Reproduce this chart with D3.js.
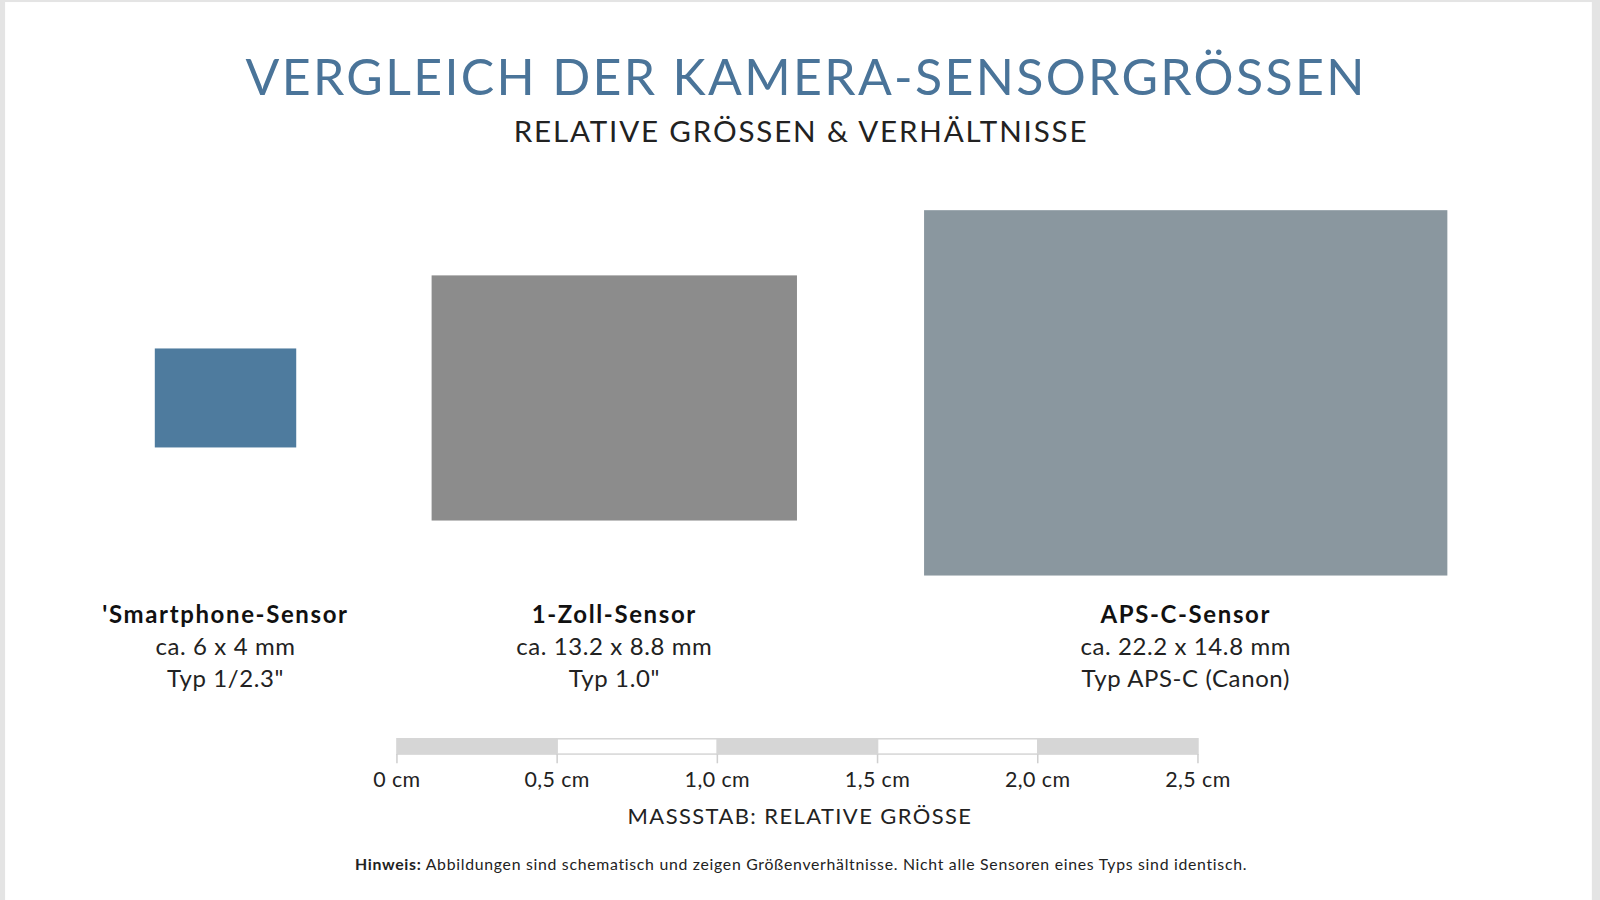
<!DOCTYPE html>
<html><head><meta charset="utf-8">
<script src="https://cdn.jsdelivr.net/npm/d3@7"></script>
<style>body{margin:0;background:#fff}svg{display:block}text{font-family:Lato,"Open Sans",sans-serif}</style>
</head><body><svg id="c" width="1600" height="900" viewBox="0 0 1568 882"></svg>
<script>
const sensors = ["'Smartphone-Sensor","1-Zoll-Sensor","APS-C-Sensor"];
const sizeLabels = ["ca. 6 x 4 mm","ca. 13.2 x 8.8 mm","ca. 22.2 x 14.8 mm"];
const typeLabels = ["Typ 1/2.3\"","Typ 1.0\"","Typ APS-C (Canon)"];
// schematic drawn sizes (relative units, as shown in picture)
const drawW = [6.0, 15.5, 22.2];
const drawH = [4.2, 10.4, 15.5];
const centersX = [221, 602, 1162];
const colors = ["#4e7b9e","#8c8c8c","#8a979f"];
const scaleTicks = [0,0.5,1.0,1.5,2.0,2.5];
const tickLabels = ["0 cm","0,5 cm","1,0 cm","1,5 cm","2,0 cm","2,5 cm"];

const svg = d3.select("#c");
svg.append("rect").attr("width",1568).attr("height",882).attr("fill","#e4e4e4");
svg.append("rect").attr("x",5).attr("y",2).attr("width",1555).attr("height",880).attr("fill","#fff");

svg.append("text").attr("x",790).attr("y",93).attr("text-anchor","middle").attr("font-size",49)
  .attr("letter-spacing",2.3).attr("fill","#4a7499").text("VERGLEICH DER KAMERA-SENSORGRÖSSEN");
svg.append("text").attr("x",785).attr("y",139).attr("text-anchor","middle").attr("font-size",29)
  .attr("letter-spacing",1.8).attr("fill","#222").text("RELATIVE GRÖSSEN & VERHÄLTNISSE");

const u = d3.scaleLinear().domain([0,1]).range([0,23.1]);
const cy = [390,390,385];
sensors.forEach((s,i)=>{
  svg.append("rect").attr("x",centersX[i]-u(drawW[i])/2).attr("y",cy[i]-u(drawH[i])/2)
    .attr("width",u(drawW[i])).attr("height",u(drawH[i])).attr("fill",colors[i]);
  svg.append("text").attr("x",centersX[i]).attr("y",611).attr("text-anchor","middle").attr("font-size",23.5)
    .attr("letter-spacing",1.6).attr("font-weight","bold").attr("fill","#111").text(s);
  svg.append("text").attr("x",centersX[i]).attr("y",642).attr("text-anchor","middle").attr("font-size",23.5)
    .attr("letter-spacing",0.6).attr("fill","#222").text(sizeLabels[i]);
  svg.append("text").attr("x",centersX[i]).attr("y",673).attr("text-anchor","middle").attr("font-size",23.5)
    .attr("letter-spacing",0.6).attr("fill","#222").text(typeLabels[i]);
});

const x = d3.scaleLinear().domain([0,2.5]).range([389,1174]);
const segs = d3.range(5);
svg.selectAll(".seg").data(segs).enter().append("rect")
  .attr("x",i=>x(i*0.5)).attr("y",724).attr("width",i=>x((i+1)*0.5)-x(i*0.5)).attr("height",15)
  .attr("fill",i=>i%2?"#fff":"#d6d6d6").attr("stroke","#d6d6d6").attr("stroke-width",1.5);
svg.selectAll(".tk").data(scaleTicks).enter().append("line")
  .attr("x1",d=>x(d)).attr("x2",d=>x(d)).attr("y1",739).attr("y2",748).attr("stroke","#cfcfcf").attr("stroke-width",1.5);
svg.selectAll(".tl").data(scaleTicks).enter().append("text")
  .attr("x",d=>x(d)).attr("y",771).attr("text-anchor","middle").attr("font-size",21).attr("letter-spacing",0.4).attr("fill","#222")
  .text((d,i)=>tickLabels[i]);
svg.append("text").attr("x",784).attr("y",808).attr("text-anchor","middle").attr("font-size",21.5)
  .attr("letter-spacing",1.4).attr("fill","#222").text("MASSSTAB: RELATIVE GRÖSSE");
const n = svg.append("text").attr("x",785).attr("y",853).attr("text-anchor","middle").attr("font-size",15.5)
  .attr("letter-spacing",0.7).attr("fill","#222");
n.append("tspan").attr("font-weight","bold").text("Hinweis:");
n.append("tspan").text(" Abbildungen sind schematisch und zeigen Größenverhältnisse. Nicht alle Sensoren eines Typs sind identisch.");
</script></body></html>
